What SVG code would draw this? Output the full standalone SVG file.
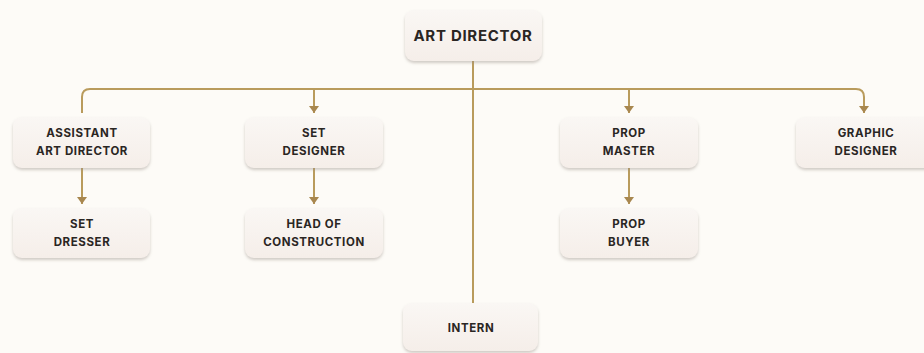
<svg xmlns="http://www.w3.org/2000/svg" width="924" height="353" viewBox="0 0 924 353">
<defs>
<filter id="sh" x="-10%" y="-10%" width="120%" height="140%">
<feDropShadow dx="0" dy="2" stdDeviation="1.5" flood-color="#9a8f86" flood-opacity="0.45"/>
</filter>
<linearGradient id="bg" x1="0" y1="0" x2="0" y2="1">
<stop offset="0" stop-color="#faf7f4"/>
<stop offset="1" stop-color="#f5eee9"/>
</linearGradient>
<marker id="ar" viewBox="0 0 10 10" refX="9" refY="5" markerWidth="10" markerHeight="10" markerUnits="userSpaceOnUse" orient="auto">
<path d="M2,0 L9,5 L2,10 Z" fill="#a8874f"/>
</marker>
</defs>
<style>
.box{fill:url(#bg);filter:url(#sh)}
.t{font-family:Inter,"Noto Sans","Liberation Sans",sans-serif;font-weight:700;font-size:11.5px;fill:#2a2623;text-anchor:middle;letter-spacing:0.6px}
.big{font-size:15px;letter-spacing:0.7px}
.ln{fill:none;stroke:#b99b5c;stroke-width:2}
</style>
<rect width="924" height="353" fill="#fdfbf7"/>
<g id="connectors">
<path class="ln" d="M82,113 V97 Q82,89 90,89 H856 Q864,89 864,97 V113" marker-end="url(#ar)"/>
<path class="ln" d="M473,61 V311" stroke="#8f7347" marker-end="url(#ar)"/>
<path class="ln" d="M314,89 V113" marker-end="url(#ar)"/>
<path class="ln" d="M629,89 V113" marker-end="url(#ar)"/>
<path class="ln" d="M82,168 V204" marker-end="url(#ar)"/>
<path class="ln" d="M314,168 V204" marker-end="url(#ar)"/>
<path class="ln" d="M629,168 V204" marker-end="url(#ar)"/>
</g>
<g id="art-director"><rect class="box" x="405" y="10" width="137" height="51" rx="9"/><text class="t big" x="473" y="41">ART DIRECTOR</text></g>
<g id="assistant-art-director"><rect class="box" x="13" y="117" width="137" height="51" rx="9"/><text class="t" x="82" y="137">ASSISTANT</text><text class="t" x="82" y="155">ART DIRECTOR</text></g>
<g id="set-designer"><rect class="box" x="245" y="117" width="138" height="51" rx="9"/><text class="t" x="314" y="137">SET</text><text class="t" x="314" y="155">DESIGNER</text></g>
<g id="prop-master"><rect class="box" x="560" y="117" width="138" height="51" rx="9"/><text class="t" x="629" y="137">PROP</text><text class="t" x="629" y="155">MASTER</text></g>
<g id="graphic-designer"><rect class="box" x="796" y="117" width="140" height="51" rx="9"/><text class="t" x="866" y="137">GRAPHIC</text><text class="t" x="866" y="155">DESIGNER</text></g>
<g id="set-dresser"><rect class="box" x="13" y="208" width="137" height="50" rx="9"/><text class="t" x="82" y="228">SET</text><text class="t" x="82" y="246">DRESSER</text></g>
<g id="head-of-construction"><rect class="box" x="245" y="208" width="138" height="50" rx="9"/><text class="t" x="314" y="228">HEAD OF</text><text class="t" x="314" y="246">CONSTRUCTION</text></g>
<g id="prop-buyer"><rect class="box" x="560" y="208" width="138" height="50" rx="9"/><text class="t" x="629" y="228">PROP</text><text class="t" x="629" y="246">BUYER</text></g>
<g id="intern"><rect class="box" x="403" y="303" width="135" height="48" rx="9"/><text class="t" x="471" y="332">INTERN</text></g>
</svg>
